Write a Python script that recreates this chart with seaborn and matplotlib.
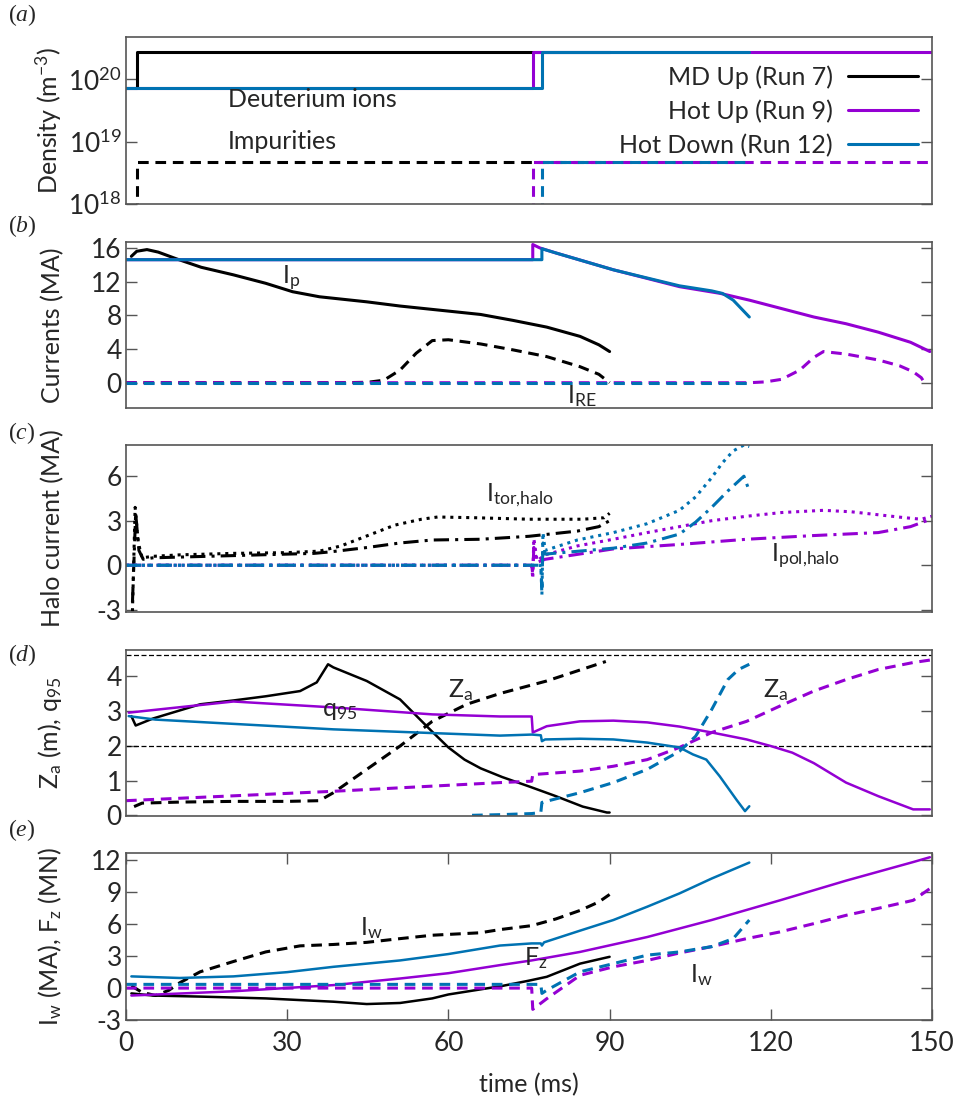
import matplotlib
matplotlib.use("Agg")
import matplotlib.pyplot as plt
import seaborn as sns

# colours of the three runs
BLACK = "black"
PURPLE = "#9400d3"
BLUE = "#0072b2"

run_names = ["MD Up (Run 7)", "Hot Up (Run 9)", "Hot Down (Run 12)"]

# (a) densities
a_t_md_d = [0, 2, 2, 90]
a_md_d = [7.2e19, 7.2e19, 2.7e20, 2.7e20]
a_t_md_i = [2, 2, 90]
a_md_i = [1e17, 4.8e18, 4.8e18]
a_t_hu_d = [0, 75.7, 75.7, 150]
a_hu_d = [7.2e19, 7.2e19, 2.7e20, 2.7e20]
a_t_hu_i = [75.7, 75.7, 150]
a_hu_i = [1e17, 4.8e18, 4.8e18]
a_t_hd_d = [0, 77.4, 77.4, 116]
a_hd_d = [7.2e19, 7.2e19, 2.7e20, 2.7e20]
a_t_hd_i = [77.4, 77.4, 116]
a_hd_i = [1e17, 4.8e18, 4.8e18]

# (b) plasma current and runaway current
b_t_md_ip = [1, 2, 3.9, 6, 9.4, 14, 20, 26, 31, 36, 44.8, 51, 57, 63, 66, 72, 78.3, 84.5, 88, 90]
b_md_ip = [15.0, 15.6, 15.8, 15.5, 14.7, 13.7, 12.8, 11.8, 10.8, 10.2, 9.6, 9.1, 8.7, 8.3, 8.1, 7.4, 6.6, 5.5, 4.5, 3.7]
b_t_md_re = [0, 40, 45, 48, 51, 54, 57, 60, 66, 72, 78.3, 84.5, 88, 89, 90]
b_md_re = [0, 0, 0.05, 0.3, 1.5, 3.5, 5.0, 5.1, 4.6, 3.9, 3.1, 1.9, 1.0, 0.5, 0]
b_t_hu_ip = [0, 75.7, 75.7, 77, 80, 90.7, 103, 110.6, 116, 122, 128, 134, 140, 146, 149.6]
b_hu_ip = [14.6, 14.6, 16.4, 16.0, 15.4, 13.4, 11.4, 10.6, 9.8, 8.8, 7.8, 7.0, 6.0, 4.8, 3.7]
b_t_hu_re = [0, 116, 119, 122, 125.4, 128, 129.8, 134, 140, 144, 146.5, 148, 148.6]
b_hu_re = [0, 0, 0.1, 0.4, 1.5, 3.0, 3.7, 3.4, 2.7, 2.0, 1.3, 0.6, 0]
b_t_hd_ip = [0, 77.4, 77.4, 80, 90.7, 103, 109, 111, 113, 114.5, 116]
b_hd_ip = [14.6, 14.6, 15.9, 15.4, 13.4, 11.5, 10.9, 10.6, 9.8, 8.8, 7.8]
b_t_hd_re = [0, 116]
b_hd_re = [0, 0]

# (c) halo currents
c_t_md_tor = [1.2, 1.7, 2.3, 3.0, 5, 10, 20, 30, 36, 40, 45, 50, 55, 58, 65, 75, 85, 89, 90]
c_md_tor = [-3.1, 3.9, 1.5, 0.5, 0.6, 0.7, 0.8, 0.85, 0.95, 1.3, 2.0, 2.7, 3.1, 3.25, 3.2, 3.1, 3.1, 3.2, 3.5]
c_t_md_pol = [1.2, 1.8, 2.4, 3.2, 5, 15, 25, 35, 38, 45, 51, 57, 66, 75, 84, 88, 90]
c_md_pol = [-2.5, 3.5, 1.0, 0.4, 0.5, 0.6, 0.7, 0.8, 0.9, 1.2, 1.5, 1.7, 1.75, 1.95, 2.3, 2.6, 3.0]
c_t_hu_tor = [0, 75.5, 75.7, 75.9, 76.5, 78, 84, 90.7, 97, 103, 109, 115.5, 122, 129.8, 135, 140, 145, 148, 150]
c_hu_tor = [0, 0, -0.9, 1.8, 0.3, 0.7, 1.3, 1.75, 2.2, 2.6, 3.0, 3.3, 3.55, 3.7, 3.6, 3.4, 3.2, 3.1, 3.3]
c_t_hu_pol = [0, 75.5, 75.7, 75.9, 76.5, 78, 90.7, 103, 115.5, 128, 140, 146, 149, 150]
c_hu_pol = [0, 0, -0.6, 1.2, 0.2, 0.4, 1.1, 1.4, 1.75, 2.0, 2.2, 2.6, 3.0, 3.1]
c_t_hd_tor = [0, 77.2, 77.4, 77.6, 78, 84, 90.7, 97, 103, 106, 109, 111, 113, 115, 116]
c_hd_tor = [0, 0, -2.0, 2.2, 1.0, 1.7, 2.2, 2.8, 3.7, 4.6, 5.9, 6.9, 7.7, 8.1, 8.0]
c_t_hd_pol = [0, 77.2, 77.4, 77.6, 78, 90.7, 97, 103, 106, 109, 112, 115, 116]
c_hd_pol = [0, 0, -1.5, 1.5, 0.75, 1.15, 1.5, 2.1, 2.9, 3.9, 5.0, 6.0, 5.0]

# (d) vertical position and q95
d_ref_levels = [2.0, 4.6]
d_t_md_q = [1, 1.8, 5, 13.8, 20, 26, 32.4, 35.5, 37.6, 38.6, 44.8, 51, 57, 60, 63, 66, 70, 75, 80, 85, 89.5, 90]
d_md_q = [2.85, 2.58, 2.78, 3.19, 3.3, 3.42, 3.57, 3.82, 4.34, 4.25, 3.86, 3.33, 2.4, 1.95, 1.6, 1.35, 1.1, 0.83, 0.55, 0.25, 0.08, 0.08]
d_t_md_z = [1.5, 3, 10, 20, 30, 36, 38.6, 44.8, 51, 57, 63.4, 69.6, 78.3, 84, 89.3]
d_md_z = [0.25, 0.35, 0.38, 0.4, 0.4, 0.42, 0.65, 1.32, 1.99, 2.7, 3.19, 3.5, 3.86, 4.15, 4.42]
d_t_hu_q = [0.5, 20, 38.6, 57, 69.6, 75.5, 75.7, 78.3, 84.5, 90.7, 97, 103, 109, 115.5, 120, 124, 128, 134, 140, 146.5, 149.6]
d_hu_q = [2.95, 3.27, 3.1, 2.9, 2.84, 2.84, 2.38, 2.56, 2.7, 2.72, 2.67, 2.55, 2.38, 2.18, 1.99, 1.8, 1.5, 0.94, 0.55, 0.17, 0.17]
d_t_hu_z = [0, 38.6, 69.6, 75.5, 75.7, 84.5, 90.7, 97, 103, 109, 115.5, 121.7, 128, 134, 140, 146.5, 149.6]
d_hu_z = [0.42, 0.69, 0.94, 0.98, 1.17, 1.27, 1.41, 1.6, 1.95, 2.38, 2.7, 3.14, 3.57, 3.9, 4.19, 4.39, 4.46]
d_t_hd_q = [0.5, 5.5, 38.6, 69.6, 75.5, 77.2, 77.4, 78, 84.5, 90.7, 97, 103, 105.5, 108, 110.5, 113.6, 115.2, 116]
d_hd_q = [2.85, 2.75, 2.47, 2.29, 2.32, 2.3, 2.13, 2.18, 2.2, 2.18, 2.09, 1.95, 1.75, 1.6, 1.12, 0.45, 0.12, 0.26]
d_t_hd_z = [64.4, 70, 75.5, 77.2, 77.4, 84.5, 90.7, 97, 103, 106, 109, 112, 114, 116]
d_hd_z = [0.0, 0.02, 0.05, 0.08, 0.37, 0.65, 0.94, 1.32, 1.84, 2.27, 3.04, 3.9, 4.19, 4.34]

# (e) wall current and vertical force
e_t_md_iw = [1, 3, 5.5, 8, 10, 13.8, 20, 26, 32.4, 38.6, 44.8, 51, 57, 65.9, 69.6, 75.5, 80, 84.5, 88, 90]
e_md_iw = [0.2, -0.4, -0.7, -0.2, 0.5, 1.53, 2.5, 3.4, 3.97, 4.1, 4.3, 4.65, 4.97, 5.2, 5.5, 5.87, 6.5, 7.3, 8.1, 8.8]
e_t_md_fz = [1, 5, 13.8, 26, 38.6, 44.8, 51, 57, 60, 65, 70, 75, 78.3, 84.5, 90]
e_md_fz = [-0.5, -0.7, -0.8, -0.97, -1.28, -1.5, -1.4, -0.97, -0.6, -0.2, 0.2, 0.7, 1.06, 2.3, 2.94]
e_t_hu_iw = [0, 75.5, 75.7, 78.3, 84.5, 90.7, 97, 103, 109, 115.5, 121.7, 128, 134, 140, 146.5, 149.6]
e_hu_iw = [0.0, 0.0, -2.0, -1.0, 1.2, 2.0, 2.6, 3.3, 3.9, 4.65, 5.28, 6.06, 6.84, 7.5, 8.25, 9.35]
e_t_hu_fz = [1, 20, 38.6, 51, 60, 69.6, 75.5, 84.5, 97, 109, 121.7, 134, 146.5, 149.6]
e_hu_fz = [-0.7, -0.3, 0.28, 0.9, 1.4, 2.16, 2.6, 3.4, 4.8, 6.4, 8.25, 10.1, 11.85, 12.3]
e_t_hd_iw = [0, 77.2, 77.4, 78.3, 84.5, 90.7, 97, 103, 109, 113, 116]
e_hd_iw = [0.35, 0.35, -0.5, -0.2, 1.53, 2.3, 3.1, 3.4, 3.9, 4.65, 6.4]
e_t_hd_fz = [1, 10, 20, 30, 38.6, 51, 60, 69.6, 75.5, 77.2, 77.4, 77.8, 84.5, 90.7, 97, 103, 109, 116]
e_hd_fz = [1.1, 0.95, 1.1, 1.5, 2.0, 2.6, 3.2, 4.0, 4.2, 4.2, 4.0, 4.3, 5.4, 6.4, 7.65, 8.9, 10.3, 11.8]

sns.set_style("ticks")
plt.rcParams["font.family"] = ["Lato", "DejaVu Sans"]
plt.rcParams["mathtext.fontset"] = "custom"
plt.rcParams["mathtext.default"] = "regular"
plt.rcParams["mathtext.rm"] = "Lato"
plt.rcParams["mathtext.it"] = "Liberation Serif:italic"
plt.rcParams["axes.unicode_minus"] = False
plt.rcParams["font.size"] = 18

DASH = (0, (3.5, 2.2))
DOT = (0, (1, 1.6))
DASHDOT = (0, (5, 2, 1, 2))
FS = 18
TFS = 19


def draw(ax, t, v, color, ls="-", lw=2.2, label=None):
    sns.lineplot(x=t, y=v, ax=ax, color=color, linestyle=ls, linewidth=lw,
                 sort=False, estimator=None, label=label, legend=False)


fig = plt.figure(figsize=(9.67, 11.01), dpi=100)
left, width = 126 / 967, 806 / 967
tops = [37, 242, 445, 650, 853]
bots = [204, 408, 612, 816, 1020]
axes = [fig.add_axes([left, 1 - b / 1101, width, (b - t) / 1101]) for t, b in zip(tops, bots)]
ax_a, ax_b, ax_c, ax_d, ax_e = axes

# (a)
ax_a.set_yscale("log")
draw(ax_a, a_t_md_d, a_md_d, BLACK, label=run_names[0])
draw(ax_a, a_t_md_i, a_md_i, BLACK, DASH)
draw(ax_a, a_t_hu_d, a_hu_d, PURPLE, label=run_names[1])
draw(ax_a, a_t_hu_i, a_hu_i, PURPLE, DASH)
draw(ax_a, a_t_hd_d, a_hd_d, BLUE, label=run_names[2])
draw(ax_a, a_t_hd_i, a_hd_i, BLUE, DASH)
ax_a.set_ylim(10 ** 18.03, 10 ** 20.68)
ax_a.minorticks_off()
ax_a.set_yticks([1e18, 1e19, 1e20])
ax_a.set_ylabel("Density (m$^{-3}$)")
ax_a.text(19, 4.8e19, "Deuterium ions", fontsize=FS, va="center")
ax_a.text(19, 1.0e19, "Impurities", fontsize=FS, va="center")
ax_a.legend(loc="upper right", bbox_to_anchor=(0.995, 0.89), frameon=False,
            markerfirst=False, fontsize=FS, handlelength=2.8, handletextpad=0.6,
            labelspacing=0.42, borderaxespad=0.0)

# (b)
draw(ax_b, b_t_md_ip, b_md_ip, BLACK)
draw(ax_b, b_t_md_re, b_md_re, BLACK, DASH)
draw(ax_b, b_t_hu_ip, b_hu_ip, PURPLE)
draw(ax_b, b_t_hu_re, b_hu_re, PURPLE, DASH)
draw(ax_b, b_t_hd_ip, b_hd_ip, BLUE)
draw(ax_b, b_t_hd_re, b_hd_re, BLUE, DASH)
ax_b.set_ylim(-3, 16.7)
ax_b.set_yticks([0, 4, 8, 12, 16])
ax_b.set_ylabel("Currents (MA)")
ax_b.text(29, 12.4, "I$_p$", fontsize=FS, va="center")
ax_b.text(82, -1.6, "I$_{RE}$", fontsize=FS, va="center")

# (c)
draw(ax_c, c_t_md_tor, c_md_tor, BLACK, DOT)
draw(ax_c, c_t_md_pol, c_md_pol, BLACK, DASHDOT)
draw(ax_c, c_t_hu_tor, c_hu_tor, PURPLE, DOT)
draw(ax_c, c_t_hu_pol, c_hu_pol, PURPLE, DASHDOT)
draw(ax_c, c_t_hd_tor, c_hd_tor, BLUE, DOT)
draw(ax_c, c_t_hd_pol, c_hd_pol, BLUE, DASHDOT)
ax_c.set_ylim(-3.15, 8.1)
ax_c.set_yticks([-3, 0, 3, 6])
ax_c.set_ylabel("Halo current (MA)")
ax_c.text(67, 4.7, "I$_{tor{,}halo}$", fontsize=FS, va="center")
ax_c.text(120, 0.6, "I$_{pol{,}halo}$", fontsize=FS, va="center")

# (d)
for lvl in d_ref_levels:
    ax_d.axhline(lvl, color=BLACK, lw=0.9, ls=(0, (4, 2)))
draw(ax_d, d_t_md_q, d_md_q, BLACK, lw=1.8)
draw(ax_d, d_t_md_z, d_md_z, BLACK, DASH)
draw(ax_d, d_t_hu_q, d_hu_q, PURPLE, lw=1.8)
draw(ax_d, d_t_hu_z, d_hu_z, PURPLE, DASH)
draw(ax_d, d_t_hd_q, d_hd_q, BLUE, lw=1.8)
draw(ax_d, d_t_hd_z, d_hd_z, BLUE, DASH)
ax_d.set_ylim(-0.02, 4.75)
ax_d.set_yticks([0, 1, 2, 3, 4])
ax_d.set_ylabel("Z$_a$ (m), q$_{95}$")
ax_d.text(36.5, 3.0, "q$_{95}$", fontsize=FS, va="center")
ax_d.text(60, 3.6, "Z$_a$", fontsize=FS, va="center")
ax_d.text(118.5, 3.6, "Z$_a$", fontsize=FS, va="center")

# (e)
draw(ax_e, e_t_md_iw, e_md_iw, BLACK, DASH)
draw(ax_e, e_t_md_fz, e_md_fz, BLACK, lw=1.8)
draw(ax_e, e_t_hu_fz, e_hu_fz, PURPLE, lw=1.8)
draw(ax_e, e_t_hu_iw, e_hu_iw, PURPLE, DASH)
draw(ax_e, e_t_hd_fz, e_hd_fz, BLUE, lw=1.8)
draw(ax_e, e_t_hd_iw, e_hd_iw, BLUE, DASH)
ax_e.set_ylim(-3, 12.7)
ax_e.set_yticks([-3, 0, 3, 6, 9, 12])
ax_e.set_ylabel("I$_w$ (MA), F$_z$ (MN)")
ax_e.set_xlabel("time (ms)", fontsize=FS, labelpad=12)
ax_e.text(43.5, 5.6, "I$_w$", fontsize=FS, va="center")
ax_e.text(74, 2.8, "F$_z$", fontsize=FS, va="center")
ax_e.text(105, 1.2, "I$_w$", fontsize=FS, va="center")
ax_e.set_xticks([0, 30, 60, 90, 120, 150])

for i, ax in enumerate(axes):
    ax.set_xlim(0, 150)
    for sp in ax.spines.values():
        sp.set_visible(True)
        sp.set_color("#555555")
        sp.set_linewidth(1.2)
    ax.tick_params(axis="y", direction="in", length=8, width=1, color="#555555",
                   left=True, right=True, labelsize=TFS, pad=3)
    if ax is ax_e:
        ax.tick_params(axis="x", direction="in", length=8, width=1, color="#555555",
                       top=True, bottom=True, labelsize=TFS, pad=8)
    else:
        ax.tick_params(axis="x", bottom=False, labelbottom=False)
        ax.set_xlabel("")
    ax.yaxis.set_label_coords(-0.077, 0.5)
    ax.yaxis.label.set_size(FS)
    fig.text(0.008, 1 - [15, 226, 433, 655, 830][i] / 1101,
             "($\\mathit{%s}$)" % "abcde"[i], family="Liberation Serif",
             fontsize=17, va="center")

fig.savefig("out.png", dpi=100)
